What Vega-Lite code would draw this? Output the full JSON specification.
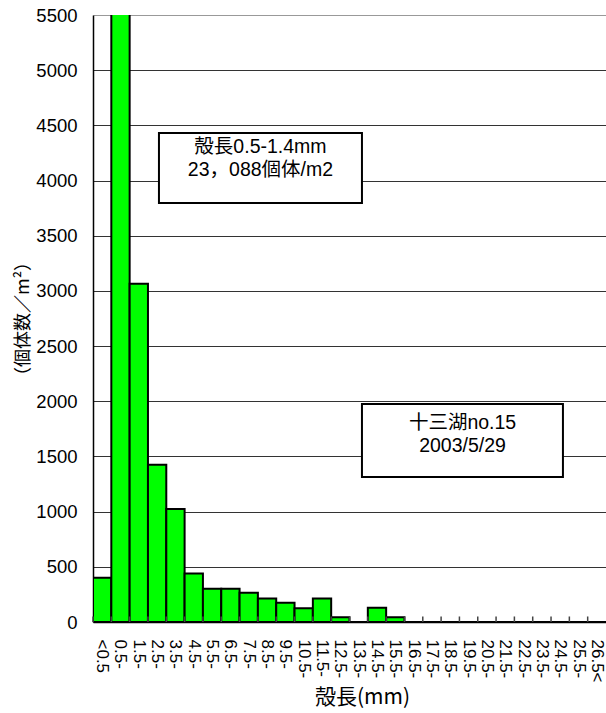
{
  "$schema": "https://vega.github.io/schema/vega-lite/v6.json",
  "autosize": {"type": "none"},
  "width": 513,
  "height": 607,
  "padding": {"left": 93, "top": 15, "right": 0, "bottom": 91},
  "background": "white",
  "config": {
    "view": {"stroke": null},
    "font": "'Liberation Sans', 'Noto Sans CJK JP', sans-serif"
  },
  "datasets": {
    "bins": [
      {"bin": "<0.5", "count": 400},
      {"bin": "0.5-", "count": 23088},
      {"bin": "1.5-", "count": 3065},
      {"bin": "2.5-", "count": 1425},
      {"bin": "3.5-", "count": 1025},
      {"bin": "4.5-", "count": 440},
      {"bin": "5.5-", "count": 302},
      {"bin": "6.5-", "count": 302},
      {"bin": "7.5-", "count": 265},
      {"bin": "8.5-", "count": 214},
      {"bin": "9.5-", "count": 175},
      {"bin": "10.5-", "count": 125},
      {"bin": "11.5-", "count": 212},
      {"bin": "12.5-", "count": 42},
      {"bin": "13.5-", "count": 0},
      {"bin": "14.5-", "count": 130},
      {"bin": "15.5-", "count": 42},
      {"bin": "16.5-", "count": 0},
      {"bin": "17.5-", "count": 0},
      {"bin": "18.5-", "count": 0},
      {"bin": "19.5-", "count": 0},
      {"bin": "20.5-", "count": 0},
      {"bin": "21.5-", "count": 0},
      {"bin": "22.5-", "count": 0},
      {"bin": "23.5-", "count": 0},
      {"bin": "24.5-", "count": 0},
      {"bin": "25.5-", "count": 0},
      {"bin": "26.5<", "count": 0}
    ]
  },
  "resolve": {"scale": {"x": "independent"}},
  "layer": [
    {
      "data": {"name": "bins"},
      "mark": {"type": "bar", "fill": "#00FF00", "stroke": "black", "strokeWidth": 2, "clip": true},
      "encoding": {
        "x": {
          "field": "bin", "type": "nominal", "sort": null,
          "scale": {"paddingInner": 0, "paddingOuter": 0},
          "axis": {
            "title": "殻長(mm)",
            "titleFont": "'Noto Sans CJK JP', sans-serif",
            "titleFontSize": 21,
            "titleFontWeight": "normal",
            "titleColor": "black",
            "titlePadding": 4,
            "titleX": 269,
            "labelAngle": 90,
            "labelFontSize": 17,
            "labelColor": "black",
            "labelPadding": 17,
            "ticks": false,
            "domainColor": "black",
            "domainWidth": 1.5,
            "labelOverlap": false,
            "grid": false
          }
        },
        "y": {
          "field": "count", "type": "quantitative",
          "scale": {"domain": [0, 5500], "nice": false},
          "axis": {
            "title": "（個体数／m²）",
            "titleFont": "'Noto Sans CJK JP', sans-serif",
            "titleFontSize": 18,
            "titleFontWeight": "normal",
            "titleColor": "black",
            "titlePadding": 3,
            "values": [0, 500, 1000, 1500, 2000, 2500, 3000, 3500, 4000, 4500, 5000, 5500],
            "format": "d",
            "labelFontSize": 18.5,
            "labelColor": "black",
            "labelPadding": 16,
            "ticks": false,
            "domainColor": "black",
            "domainWidth": 1.5,
            "grid": true,
            "gridColor": {"condition": {"test": "datum.value === 5500", "value": "#999"}, "value": "#333"},
            "gridWidth": 1
          }
        }
      }
    },
    {
      "data": {"name": "bins"},
      "mark": {"type": "rule", "color": "#444", "strokeWidth": 1.5},
      "encoding": {
        "x": {"field": "bin", "type": "nominal", "sort": null, "bandPosition": 0,
              "scale": {"paddingInner": 0, "paddingOuter": 0}, "axis": null},
        "y": {"datum": 0, "type": "quantitative"},
        "y2": {"datum": 50}
      }
    },
    {
      "data": {"values": [
        {"x1": 3.6, "x2": 14.68, "y1": 4431, "y2": 3797},
        {"x1": 14.68, "x2": 25.65, "y1": 1975, "y2": 1314}
      ]},
      "mark": {"type": "rect", "fill": "white", "stroke": "black", "strokeWidth": 2},
      "encoding": {
        "x": {"field": "x1", "type": "quantitative", "scale": {"domain": [0, 28], "nice": false, "zero": false}, "axis": null},
        "x2": {"field": "x2"},
        "y": {"field": "y1", "type": "quantitative"},
        "y2": {"field": "y2"}
      }
    },
    {
      "data": {"values": [
        {"x": 9.14, "y": 4300, "label": "殻長0.5-1.4mm"},
        {"x": 9.14, "y": 4092, "label": "23，088個体/m2"},
        {"x": 20.17, "y": 1802, "label": "十三湖no.15"},
        {"x": 20.17, "y": 1594, "label": "2003/5/29"}
      ]},
      "mark": {"type": "text", "fontSize": 19.5, "color": "black", "align": "center", "baseline": "middle", "font": "'Liberation Sans', 'Noto Sans CJK JP', sans-serif"},
      "encoding": {
        "x": {"field": "x", "type": "quantitative", "scale": {"domain": [0, 28], "nice": false, "zero": false}, "axis": null},
        "y": {"field": "y", "type": "quantitative"},
        "text": {"field": "label"}
      }
    }
  ]
}
